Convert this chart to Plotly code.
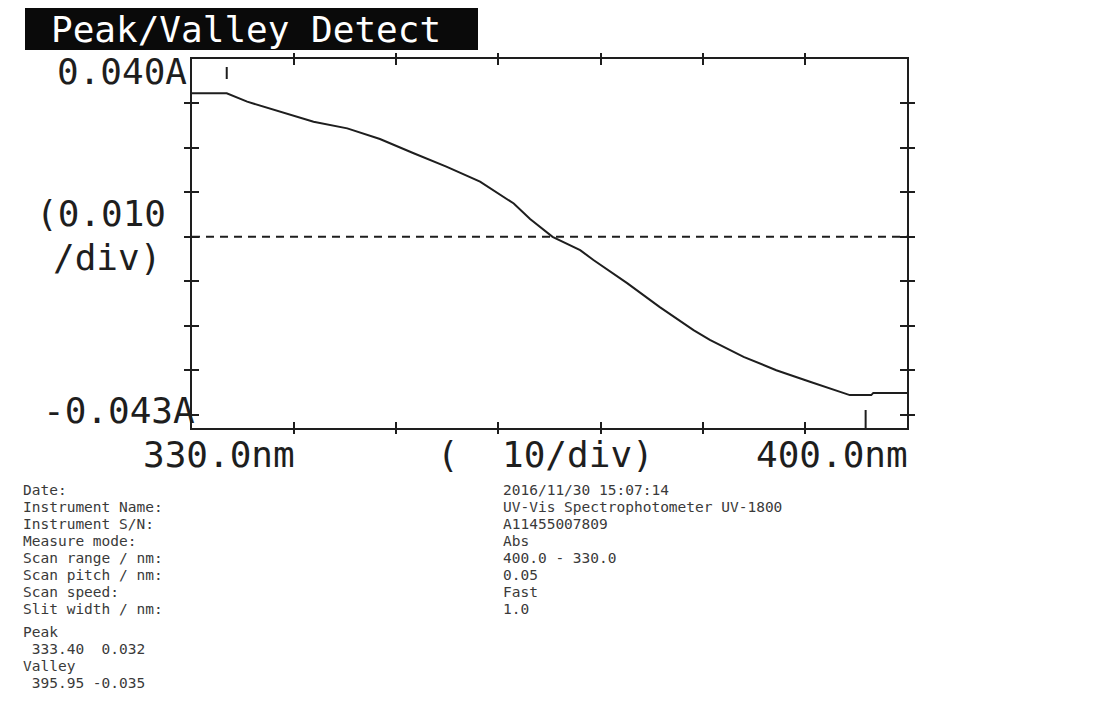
import plotly.graph_objects as go

# ---------------- data ----------------
wavelength_nm = [330.0, 333.4, 335.4, 338.6, 341.9, 345.2, 348.4, 351.7, 354.9,
                 358.2, 361.5, 363.1, 365.3, 368.0, 369.3, 372.6, 375.8,
                 379.1, 380.7, 384.0, 387.2, 390.5, 393.8, 394.4, 396.5, 396.7, 400.0]
absorbance = [0.0323, 0.0323, 0.0304, 0.0281, 0.0259, 0.0244, 0.0220, 0.0188, 0.0158,
              0.0124, 0.0075, 0.0040, 0.0000, -0.0030, -0.0052, -0.0104, -0.0158,
              -0.0210, -0.0232, -0.0270, -0.0300, -0.0326, -0.0352, -0.0356, -0.0356,
              -0.0351, -0.0351]

x_range = [330.0, 400.0]
y_range = [-0.043, 0.040]
x_ticks = [340, 350, 360, 370, 380, 390]
y_ticks = [-0.040, -0.030, -0.020, -0.010, 0.000, 0.010, 0.020, 0.030]
baseline_y = 0.0
peak_wl, peak_abs = 333.40, 0.032
valley_wl, valley_abs = 395.95, -0.035

title_text = "Peak/Valley Detect"
y_top_label = "0.040A"
y_bottom_label = "-0.043A"
y_div_labels = ["(0.010", "/div)"]
x_left_label = "330.0nm"
x_mid_label = "(  10/div)"
x_right_label = "400.0nm"

info_keys = ["Date:", "Instrument Name:", "Instrument S/N:", "Measure mode:",
             "Scan range / nm:", "Scan pitch / nm:", "Scan speed:", "Slit width / nm:"]
info_vals = ["2016/11/30 15:07:14", "UV-Vis Spectrophotometer UV-1800", "A11455007809",
             "Abs", "400.0 - 330.0", "0.05", "Fast", "1.0"]
pv_lines = ["Peak", f" {peak_wl:.2f}  {peak_abs:.3f}", "Valley", f" {valley_wl:.2f} {valley_abs:.3f}"]

# ---------------- layout helpers (page pixels) ----------------
PAGE_W, PAGE_H = 1103, 720
BODY = 8                      # default body margin of the html page
FIG_W, FIG_H = PAGE_W - 2 * BODY, PAGE_H - 2 * BODY
L, R, T, B = 192, 907, 59, 428  # plot frame in page pixels


def px(x):
    return (x - L) / (R - L)


def py(y):
    return (B - y) / (B - T)


MONO = "DejaVu Sans Mono"
INK = "#1e1e1e"

fig = go.Figure()

fig.add_trace(go.Scatter(x=wavelength_nm, y=absorbance, mode="lines",
                         line=dict(color=INK, width=2), showlegend=False,
                         hoverinfo="skip"))
fig.add_trace(go.Scatter(x=x_range, y=[baseline_y, baseline_y], mode="lines",
                         line=dict(color=INK, width=2, dash="8px,6px"),
                         xaxis="x2", yaxis="y2", showlegend=False, hoverinfo="skip"))

axis_common = dict(showgrid=False, zeroline=False, showticklabels=False)
fig.update_layout(
    width=FIG_W, height=FIG_H, autosize=False,
    margin=dict(l=L - BODY, r=BODY + FIG_W - R, t=T - BODY, b=BODY + FIG_H - B, pad=0),
    paper_bgcolor="white", plot_bgcolor="white",
    xaxis=dict(range=x_range, tickvals=x_ticks, ticks="inside", ticklen=6,
               tickwidth=2, tickcolor=INK, showline=True, linewidth=2,
               linecolor=INK, mirror="ticks", **axis_common),
    yaxis=dict(range=y_range, tickvals=y_ticks, ticks="inside", ticklen=7,
               tickwidth=2, tickcolor=INK, showline=True, linewidth=2,
               linecolor=INK, mirror="ticks", **axis_common),
    xaxis2=dict(range=x_range, overlaying="x", matches="x", tickvals=x_ticks,
                ticks="outside", ticklen=5, tickwidth=2, tickcolor=INK,
                showline=False, mirror="ticks", **axis_common),
    yaxis2=dict(range=y_range, overlaying="y", matches="y", tickvals=y_ticks,
                ticks="outside", ticklen=7, tickwidth=2, tickcolor=INK,
                showline=False, mirror="ticks", **axis_common),
)

# peak / valley markers
fig.add_shape(type="line", xref="x", yref="paper", x0=peak_wl, x1=peak_wl,
              y0=py(67), y1=py(79), line=dict(color=INK, width=2))
fig.add_shape(type="line", xref="x", yref="paper", x0=valley_wl, x1=valley_wl,
              y0=py(410), y1=py(428), line=dict(color=INK, width=2))

# title box
fig.add_shape(type="rect", xref="paper", yref="paper", x0=px(25), x1=px(478),
              y0=py(50), y1=py(8), fillcolor="#0a0a0a", line=dict(width=0),
              layer="above")

ann = []


def text(t, x, y, size, xanchor="left", color=INK):
    ann.append(dict(text=t, x=px(x), y=py(y), xref="paper", yref="paper",
                    xanchor=xanchor, yanchor="middle", showarrow=False,
                    borderpad=0,
                    font=dict(family=MONO, size=size, color=color)))


text(title_text, 50, 29, 36, color="white")
text(y_top_label, 188, 72, 36, xanchor="right")
text(y_div_labels[0], 35, 214, 36)
text(y_div_labels[1], 52, 258, 36)
text(y_bottom_label, 196, 410, 36, xanchor="right")
text(x_left_label, 142, 454, 36)
text(x_mid_label, 436, 454, 36)
text(x_right_label, 909, 454, 36, xanchor="right")

GREY = "#3a3a3a"
for i, (k, v) in enumerate(zip(info_keys, info_vals)):
    yy = 490 + 17 * i
    text(k, 22, yy, 14.5, color=GREY)
    text(v, 502, yy, 14.5, color=GREY)
for i, s in enumerate(pv_lines):
    text(s, 22, 632 + 17 * i, 14.5, color=GREY)

fig.update_layout(annotations=ann)

fig.write_html("out.html")
